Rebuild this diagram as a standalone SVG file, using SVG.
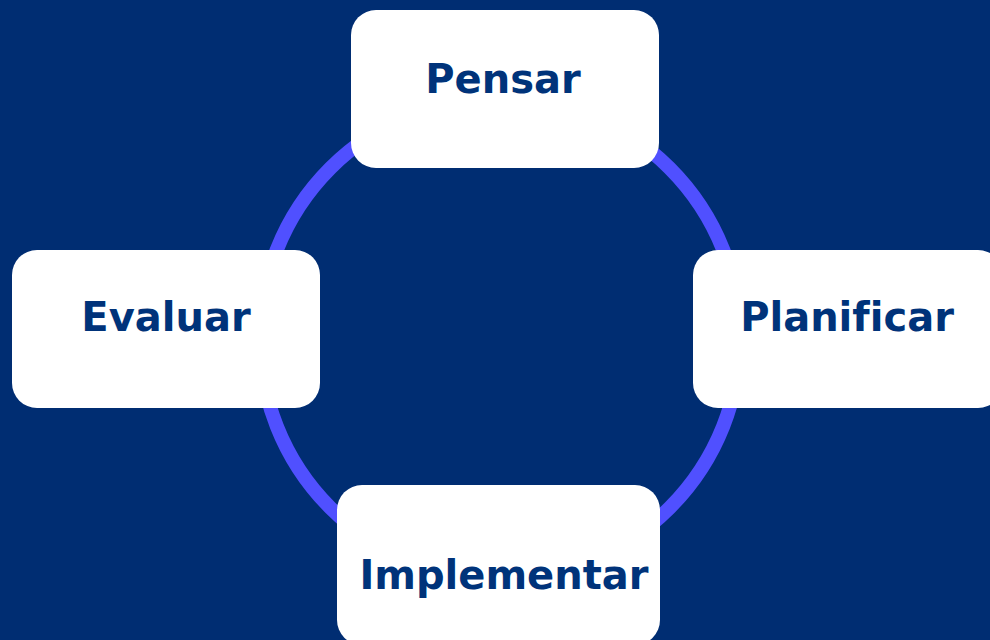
<svg xmlns="http://www.w3.org/2000/svg" width="990" height="640" viewBox="0 0 990 640">
<style>
.bg{fill:#002D72}
.ring{fill:none;stroke:#5050FF;stroke-width:14}
.box{fill:#FFFFFF}
.lbl{font-family:"DejaVu Sans",Verdana,sans-serif;font-weight:bold;font-size:40px;fill:#00337A;text-anchor:middle;font-variant-ligatures:none;font-feature-settings:"liga" 0}
</style>
<rect class="bg" x="0" y="0" width="990" height="640"/>
<g id="connectors">
<circle class="ring" cx="500" cy="338" r="240"/>
</g>
<g id="pensar">
<rect class="box" x="351" y="10" width="308" height="158" rx="25" ry="25"/>
<text class="lbl" x="503" y="93">Pensar</text>
</g>
<g id="evaluar">
<rect class="box" x="12" y="250" width="308" height="158" rx="25" ry="25"/>
<text class="lbl" x="166" y="331">Evaluar</text>
</g>
<g id="planificar">
<rect class="box" x="693" y="250" width="310" height="158" rx="25" ry="25"/>
<text class="lbl" x="847" y="331">Planificar</text>
</g>
<g id="implementar">
<rect class="box" x="337" y="485" width="323" height="160" rx="25" ry="25"/>
<text class="lbl" x="504" y="589">Implementar</text>
</g>
</svg>
